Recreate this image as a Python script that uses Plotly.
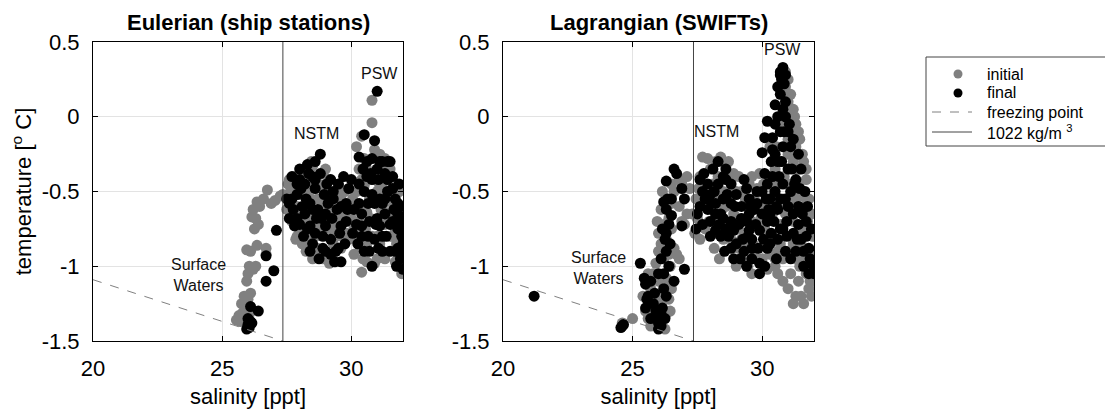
import plotly.graph_objects as go

# Eulerian (ship stations): (salinity, temperature)
eul_initial = [
    (25.55, -1.36), (25.65, -1.33), (25.7, -1.37), (25.8, -1.31), (25.9, -1.34), (25.75, -1.25),
    (25.85, -1.2), (26.0, -1.22), (26.1, -1.18), (25.95, -1.28), (26.05, -1.32),
    (25.95, -1.1), (26.0, -1.05), (26.05, -1.0), (26.3, -1.0), (26.2, -1.02), (25.95, -0.89),
    (26.1, -0.9), (26.35, -0.86), (26.7, -0.88), (26.7, -0.92),
    (26.15, -0.67), (26.3, -0.68), (26.4, -0.72), (26.25, -0.75), (26.2, -0.62), (26.35, -0.57),
    (26.45, -0.6), (26.75, -0.49), (26.9, -0.58), (27.05, -0.56), (27.25, -0.53), (27.35, -0.52),
    (26.6, -0.55),
    (27.6, -0.42), (27.8, -0.4), (28.0, -0.38), (28.2, -0.35), (28.5, -0.33), (28.9, -0.38), (29.1, -0.42),
    (27.6, -0.55), (27.9, -0.6), (28.2, -0.5), (28.4, -0.48), (28.7, -0.55), (29.0, -0.58), (29.3, -0.62),
    (29.6, -0.55), (29.9, -0.6),
    (27.7, -0.7), (28.0, -0.75), (28.3, -0.68), (28.6, -0.72), (28.9, -0.7), (29.2, -0.75), (29.5, -0.72),
    (29.8, -0.78), (30.1, -0.75),
    (28.1, -0.85), (28.4, -0.82), (28.7, -0.88), (29.0, -0.9), (29.3, -0.85), (29.6, -0.88), (29.9, -0.82),
    (28.6, -0.93), (28.9, -0.95), (29.2, -0.93),
    (27.55, -0.45), (28.05, -0.52), (28.8, -0.62), (29.4, -0.5), (29.7, -0.68), (28.3, -0.6),
    (27.7, -0.46), (28.3, -0.46), (28.9, -0.46), (29.5, -0.46), (30.5, -0.46), (31.1, -0.46), (31.7, -0.46),
    (27.8, -0.64), (28.5, -0.64), (29.1, -0.64), (29.7, -0.64), (30.6, -0.64), (31.5, -0.64), (31.9, -0.64),
    (27.9, -0.8), (28.6, -0.8), (29.4, -0.8), (30.2, -0.8), (31.0, -0.8), (31.6, -0.8),
    (29.4, -0.97), (30.6, -0.97), (31.7, -0.97), (30.6, -0.35), (31.0, -0.35), (31.5, -0.35),
    (27.65, -0.5), (28.15, -0.4), (28.45, -0.55), (28.75, -0.45), (29.05, -0.5), (29.35, -0.68),
    (29.65, -0.8), (29.95, -0.7), (28.25, -0.9), (28.85, -0.76), (27.85, -0.82), (29.15, -0.55),
    (30.35, -0.88), (30.75, -0.68), (31.15, -0.62), (31.45, -0.68), (31.75, -0.85), (31.55, -0.5),
    (30.95, -0.42), (30.55, -0.75), (31.85, -0.5), (32.0, -0.75), (30.1, -0.92),
    (27.5, -0.62), (28.45, -0.3), (29.0, -0.35), (29.75, -0.5), (30.05, -0.55), (29.15, -0.98), (28.5, -0.95),
    (30.2, -0.6), (30.5, -0.28), (31.25, -0.35), (31.5, -0.55), (31.9, -0.75), (30.45, -0.95), (31.3, -0.95),
    (30.8, 0.11), (30.8, -0.04), (30.4, -0.13), (30.2, -0.2), (30.3, -0.35), (30.4, -0.42), (30.6, -0.3),
    (30.9, -0.22), (31.1, -0.25), (31.3, -0.28), (31.4, -0.32),
    (30.4, -1.04), (30.9, -0.98), (31.0, -0.95), (30.6, -0.85), (30.8, -0.8), (30.3, -0.7), (30.5, -0.62),
    (30.7, -0.55), (31.0, -0.5), (31.2, -0.45), (31.5, -0.42),
    (31.2, -0.6), (31.4, -0.55), (31.6, -0.58), (31.8, -0.65), (31.7, -0.75), (31.9, -0.85), (32.0, -0.95),
    (31.95, -1.05), (31.8, -0.95), (31.5, -0.8), (31.3, -0.72), (31.1, -0.85), (30.2, -0.5), (30.0, -0.68),
]

eul_final = [
    (25.95, -1.42), (26.0, -1.39), (26.05, -1.41), (26.1, -1.37), (26.0, -1.35), (26.15, -1.38),
    (26.1, -1.27), (26.4, -1.3), (26.7, -1.1), (26.7, -0.93), (27.0, -1.03), (27.1, -0.76),
    (28.8, -0.25), (28.3, -0.32), (28.0, -0.35), (28.5, -0.4), (28.8, -0.38), (27.9, -0.45), (28.2, -0.45),
    (28.6, -0.48),
    (27.7, -0.55), (27.9, -0.52), (28.1, -0.6), (28.4, -0.58), (28.7, -0.62), (29.0, -0.65), (29.3, -0.55),
    (29.6, -0.6), (29.9, -0.48), (30.0, -0.42), (29.5, -0.45), (29.3, -0.5),
    (27.6, -0.68), (28.0, -0.72), (28.3, -0.75), (28.6, -0.78), (28.9, -0.8), (29.2, -0.82), (29.5, -0.88),
    (29.6, -0.97), (29.2, -0.92), (28.9, -0.88), (28.5, -0.85), (27.9, -0.68), (29.8, -0.7), (30.1, -0.62),
    (27.5, -0.55), (28.2, -0.65),
    (28.0, -0.42), (28.6, -0.42), (29.2, -0.42), (30.8, -0.42), (31.4, -0.42),
    (27.6, -0.58), (28.3, -0.58), (29.1, -0.58), (29.8, -0.58), (30.3, -0.58), (30.9, -0.58), (31.2, -0.58),
    (31.8, -0.58),
    (27.8, -0.73), (28.4, -0.73), (29.0, -0.73), (29.6, -0.73), (30.4, -0.73), (31.1, -0.73), (31.9, -0.73),
    (28.4, -0.9), (29.0, -0.9), (29.4, -0.9), (30.7, -0.9), (31.2, -0.9), (31.7, -0.9),
    (30.6, -0.3), (31.1, -0.3), (31.4, -0.3), (31.9, -0.6), (32.0, -0.85), (31.95, -0.7),
    (27.75, -0.62), (28.05, -0.48), (28.35, -0.38), (28.65, -0.68), (28.95, -0.52), (29.25, -0.68),
    (29.55, -0.78), (29.85, -0.62), (28.15, -0.8), (28.75, -0.95), (29.35, -0.97), (30.25, -0.85),
    (30.65, -0.58), (31.05, -0.42), (31.35, -0.8), (31.65, -0.62), (31.85, -0.45), (30.95, -0.72),
    (30.45, -0.35), (31.75, -1.0), (32.0, -0.9),
    (27.7, -0.4), (28.6, -0.3), (28.25, -0.55), (28.85, -0.68), (29.45, -0.62), (29.75, -0.85),
    (30.05, -0.78), (29.05, -0.45), (28.5, -0.62), (29.7, -0.4),
    (30.3, -0.45), (30.65, -0.8), (31.05, -0.88), (31.5, -0.72), (31.8, -0.65), (30.75, -0.38),
    (31.3, -0.55), (31.6, -0.48), (30.2, -0.72),
    (31.0, 0.17), (30.5, -0.12), (30.9, -0.16), (30.3, -0.27), (30.8, -0.28), (31.2, -0.3), (31.5, -0.3),
    (31.0, -0.35), (30.6, -0.4), (31.3, -0.38), (31.6, -0.4),
    (30.5, -0.5), (30.8, -0.52), (31.1, -0.55), (31.4, -0.5), (31.7, -0.55), (30.4, -0.65), (30.7, -0.7),
    (31.0, -0.68), (31.3, -0.65), (31.6, -0.7), (31.8, -0.75),
    (30.5, -0.9), (30.8, -1.0), (31.2, -0.8), (31.5, -0.9), (31.8, -0.88), (31.9, -0.95), (32.0, -1.02),
    (31.95, -0.8), (30.9, -0.82), (30.4, -0.8),
]

# Lagrangian (SWIFTs)
lag_initial = [
    (25.0, -1.35), (24.6, -1.38),
    (25.4, -1.2), (25.5, -1.3), (25.6, -1.35), (25.8, -1.38), (25.9, -1.3), (26.1, -1.25), (26.2, -1.2),
    (26.4, -1.22), (26.3, -1.32), (25.7, -1.15), (26.0, -1.1), (26.3, -1.08), (26.4, -1.1), (25.9, -0.98),
    (26.2, -0.95), (26.1, -0.85), (26.3, -0.82), (26.0, -0.78), (26.2, -0.72), (26.4, -0.68), (26.1, -0.62),
    (26.3, -0.55), (26.5, -0.58), (26.6, -0.5), (26.8, -0.42), (26.9, -0.45), (27.2, -0.48), (26.9, -0.7),
    (27.0, -0.72), (26.7, -0.92), (26.8, -0.95), (26.6, -0.88), (27.3, -0.65), (27.4, -0.78), (26.5, -0.75),
    (25.6, -1.25), (26.0, -1.2), (26.45, -1.3), (25.8, -1.05), (26.45, -1.0), (26.0, -0.9), (26.4, -0.92),
    (25.95, -0.7), (26.35, -0.75), (26.15, -0.5), (26.5, -0.45), (27.1, -0.4), (26.8, -0.6), (27.1, -0.65),
    (25.7, -1.4), (26.25, -1.42), (26.5, -1.15), (25.6, -1.05),
    (27.7, -0.27), (28.4, -0.27), (28.0, -0.35), (28.6, -0.33), (28.9, -0.38), (29.2, -0.5), (29.5, -0.45),
    (29.8, -0.48), (29.9, -0.38),
    (27.6, -0.55), (28.0, -0.62), (28.3, -0.55), (28.6, -0.6), (28.9, -0.65), (29.2, -0.68), (29.5, -0.62),
    (29.8, -0.72), (30.1, -0.75),
    (27.8, -0.75), (28.2, -0.78), (28.5, -0.72), (28.8, -0.82), (29.1, -0.88), (29.4, -0.85), (29.7, -0.9),
    (30.0, -0.95), (30.3, -0.92),
    (27.5, -0.68), (28.1, -0.45), (28.7, -0.5), (29.3, -0.78),
    (27.6, -0.4), (28.3, -0.4), (28.9, -0.4), (29.6, -0.4), (28.5, -0.5), (29.0, -0.5), (29.9, -0.5),
    (27.8, -0.58), (28.6, -0.58), (29.4, -0.58), (30.2, -0.58), (28.2, -0.7), (28.9, -0.7), (29.6, -0.7),
    (27.6, -0.82), (28.5, -0.82), (29.2, -0.82), (30.1, -0.82), (29.2, -0.95), (29.8, -0.95), (30.5, -0.95),
    (27.55, -0.48), (27.95, -0.7), (28.45, -0.62), (28.75, -0.42), (29.05, -0.75), (29.35, -0.55),
    (29.65, -0.85), (29.95, -0.68), (30.25, -0.82), (28.15, -0.88), (29.45, -1.0),
    (27.45, -0.55), (27.9, -0.28), (28.2, -0.3), (28.7, -0.3), (29.1, -0.4), (29.7, -0.55), (30.05, -0.45),
    (28.35, -0.95), (29.0, -1.0), (29.6, -1.05), (30.2, -1.02),
    (30.9, 0.2), (31.0, 0.1), (31.1, 0.0), (31.2, -0.1), (30.9, -0.05), (31.0, -0.15), (31.3, -0.2),
    (31.2, -0.3), (31.4, -0.35), (30.7, -0.3), (30.5, -0.35), (30.3, -0.4), (31.1, -0.45), (31.5, -0.5),
    (30.6, -0.6), (30.9, -0.65), (31.2, -0.7), (31.6, -0.65), (31.8, -0.78), (30.4, -0.8), (30.7, -0.85),
    (31.0, -0.9), (31.3, -0.95), (31.6, -0.98), (31.9, -1.0), (32.0, -1.1), (31.8, -1.15), (31.5, -1.2),
    (31.2, -1.25), (31.9, -1.2), (30.5, -1.0), (30.8, -1.1), (31.1, -1.05), (31.5, -0.85), (31.7, -0.55),
    (31.4, -0.45), (30.2, -0.55), (30.0, -0.6), (30.9, 0.3), (31.0, 0.25),
    (30.95, 0.15), (31.05, 0.05), (31.3, -0.05), (31.45, -0.15), (31.6, -0.3), (31.7, -0.42), (31.85, -0.65),
    (31.95, -0.8), (32.0, -0.95), (31.7, -1.05), (31.4, -1.1), (31.0, -1.15), (30.6, -1.05), (31.3, -1.2),
    (31.6, -1.25), (31.85, -1.1), (30.8, -0.95), (31.2, -0.85), (31.5, -0.75), (31.8, -0.9), (30.4, -0.65),
    (30.8, -0.55), (31.3, -0.55), (31.6, -0.6), (30.6, -0.45), (31.0, -0.25), (30.4, -0.3), (30.3, -0.2),
    (31.2, 0.05),
    (30.7, -0.72), (31.05, -0.6), (31.35, -0.35), (31.55, -0.95), (31.15, -0.8), (30.45, -0.5),
    (31.75, -0.7), (31.45, -1.0), (30.6, -0.9), (30.55, -0.2), (30.85, -0.4), (31.15, -0.15),
    (31.1, 0.15), (31.25, 0.0), (31.4, -0.1), (31.55, -0.25), (31.7, -0.35), (31.8, -0.55), (31.9, -0.65),
    (31.95, -0.9),
]

lag_final = [
    (21.2, -1.2), (24.55, -1.41), (24.65, -1.39), (24.6, -1.4),
    (25.3, -0.98), (25.45, -1.08), (25.5, -1.12), (25.6, -1.2), (25.55, -1.22), (25.7, -1.1), (25.8, -1.25),
    (25.9, -1.3), (26.0, -1.38), (26.0, -1.42), (25.95, -1.35), (26.1, -1.32), (26.15, -1.28), (26.2, -1.15),
    (26.2, -1.05), (26.1, -0.95), (26.3, -0.9), (26.25, -0.82), (26.3, -0.78), (26.4, -0.72), (26.3, -0.62),
    (26.5, -0.66), (26.2, -0.57), (26.3, -0.43), (26.6, -0.35), (26.7, -0.38), (26.9, -0.48), (27.0, -0.55),
    (26.9, -0.73), (27.0, -1.02), (26.5, -0.55), (26.6, -1.1),
    (25.5, -1.28), (25.7, -1.35), (25.85, -1.18), (26.3, -1.2), (26.0, -1.05), (26.4, -1.0), (26.15, -0.75),
    (26.35, -0.55), (26.45, -0.85), (26.1, -1.4), (26.25, -1.35),
    (28.3, -0.3), (28.1, -0.35), (28.5, -0.4), (27.9, -0.45), (28.3, -0.45), (28.8, -0.45), (27.7, -0.5),
    (28.0, -0.52), (28.5, -0.55), (29.0, -0.52), (27.6, -0.6), (27.9, -0.62), (28.2, -0.65), (28.5, -0.68),
    (28.8, -0.7), (29.1, -0.72), (29.4, -0.7), (28.4, -0.8), (28.7, -0.8), (29.0, -0.85), (29.3, -0.9),
    (29.6, -0.95), (29.9, -0.98), (29.6, -0.82), (29.2, -0.6), (29.5, -0.55), (29.8, -0.5), (29.7, -0.62),
    (30.0, -0.65), (30.2, -0.7), (28.0, -0.7), (27.7, -0.72), (29.9, -1.05),
    (28.6, -0.35), (27.6, -0.42), (28.6, -0.42), (29.3, -0.42), (28.2, -0.58), (28.8, -0.58), (29.8, -0.58),
    (27.5, -0.65), (28.4, -0.65), (29.5, -0.65), (30.3, -0.65), (28.2, -0.76), (28.9, -0.76), (29.5, -0.76),
    (29.9, -0.76), (28.8, -0.88), (29.6, -0.88), (30.2, -0.88), (29.4, -1.0), (30.1, -1.0),
    (27.75, -0.38), (28.05, -0.58), (28.35, -0.72), (28.65, -0.52), (28.95, -0.6), (29.25, -0.82),
    (29.55, -0.6), (29.85, -0.88), (30.15, -0.55), (28.55, -0.9), (29.15, -0.95),
    (27.45, -0.75), (28.0, -0.8), (28.6, -0.75), (29.2, -0.68), (29.45, -0.8), (29.75, -0.72),
    (30.05, -0.82), (28.9, -0.95), (29.4, -0.48), (28.15, -0.5), (27.8, -0.55),
    (30.7, 0.3), (30.8, 0.33), (30.75, 0.25), (30.6, 0.2), (30.85, 0.22), (30.9, 0.1), (30.5, 0.08),
    (30.2, -0.03), (30.5, -0.05), (30.4, -0.14), (30.1, -0.14), (30.0, -0.24), (30.4, -0.22), (30.7, -0.1),
    (30.8, -0.2), (30.6, -0.3), (31.0, -0.35), (31.3, -0.42), (31.1, -0.5), (30.8, -0.45), (30.5, -0.5),
    (30.3, -0.55), (30.6, -0.62), (31.0, -0.6), (31.4, -0.6), (31.7, -0.7), (30.8, -0.75), (31.2, -0.78),
    (31.5, -0.82), (31.8, -0.88), (31.9, -0.98), (32.0, -1.05), (31.6, -1.0), (31.3, -0.9), (30.6, -0.82),
    (31.4, -0.25), (31.2, -0.15),
    (30.7, 0.15), (30.6, 0.0), (30.9, 0.0), (30.75, -0.3), (31.1, -0.2), (31.5, -0.35), (31.65, -0.5),
    (31.2, -0.65), (30.9, -0.55), (30.45, -0.7), (30.9, -0.9), (31.4, -0.72), (31.7, -0.8), (31.9, -0.75),
    (32.0, -1.0), (31.8, -1.05), (30.4, -0.4), (30.2, -0.45), (30.7, -0.75), (31.1, -0.95),
    (30.35, -0.78), (30.95, -0.8), (31.25, -0.45), (30.65, -0.4), (31.55, -0.65), (31.85, -0.95),
    (30.55, -0.95), (30.35, -0.3), (30.85, -0.1), (31.05, -0.05),
    (30.8, 0.05), (31.0, -0.1), (30.5, -0.25), (30.7, -0.55), (31.15, -0.35), (31.45, -0.48), (30.3, -0.85),
    (30.55, -0.6), (30.95, -0.7), (31.35, -0.82), (31.6, -0.9), (31.75, -0.6), (30.1, -0.38), (30.25, -0.62),
    (30.0, -0.5), (30.7, 0.28), (30.9, 0.28),
]

freeze_s = [20, 27.35]
freeze_t = [-1.09, -1.5]
isopycnal_s = [27.35, 27.35]
isopycnal_t = [-1.5, 0.5]

titles = ["Eulerian (ship stations)", "Lagrangian (SWIFTs)"]
ytickvals = [-1.5, -1, -0.5, 0, 0.5]
yticktext = ["-1.5", "-1", "-0.5", "0", "0.5"]
xtickvals = [20, 25, 30]
legend_labels = ["initial", "final", "freezing point", "1022 kg/m <sup>3</sup>"]

GREY = "#808080"
ISO = "#444444"
FONT = "Liberation Sans, Arial, sans-serif"
MSIZE = 11

# page body has an 8px margin, so the figure is a bit smaller than the window
W, H = 1105, 404

fig = go.Figure()

panels = [(eul_initial, eul_final, "x", "y"), (lag_initial, lag_final, "x2", "y2")]
for ini, fin, xa, ya in panels:
    s, t = zip(*ini)
    fig.add_trace(go.Scatter(x=s, y=t, mode="markers", name="initial", xaxis=xa, yaxis=ya,
                             marker=dict(color=GREY, size=MSIZE)))
    s, t = zip(*fin)
    fig.add_trace(go.Scatter(x=s, y=t, mode="markers", name="final", xaxis=xa, yaxis=ya,
                             marker=dict(color="black", size=MSIZE)))
    fig.add_trace(go.Scatter(x=freeze_s, y=freeze_t, mode="lines", name="freezing point",
                             xaxis=xa, yaxis=ya, line=dict(color=GREY, width=1, dash="dash")))
    fig.add_trace(go.Scatter(x=isopycnal_s, y=isopycnal_t, mode="lines", name="1022 kg/m3",
                             xaxis=xa, yaxis=ya, line=dict(color=ISO, width=1)))

axis_common = dict(showline=True, linecolor="black", linewidth=1, mirror="allticks",
                   ticks="inside", ticklen=5, tickcolor="black", showgrid=True,
                   gridcolor="#e3e3e3", zeroline=False, automargin=False,
                   ticklabelstandoff=8, tickfont=dict(size=22, color="black"))

xdom = [[85 / W, 395 / W], [495 / W, 806 / W]]
ydom = [1 - 333 / H, 1 - 34 / H]
for i in range(2):
    sfx = "" if i == 0 else str(i + 1)
    fig.update_layout(**{
        "xaxis" + sfx: dict(axis_common, domain=xdom[i], range=[20, 32], tickvals=xtickvals,
                            anchor="y" + sfx,
                            title=dict(text="salinity [ppt]", font=dict(size=22), standoff=8)),
        "yaxis" + sfx: dict(axis_common, domain=ydom, range=[-1.5, 0.5],
                            tickvals=ytickvals, ticktext=yticktext, anchor="x" + sfx),
    })

fig.update_layout(yaxis_title=dict(text="temperature [<sup>o</sup> C]", font=dict(size=22), standoff=8))

for i, title in enumerate(titles):
    cx = (xdom[i][0] + xdom[i][1]) / 2
    fig.add_annotation(text="<b>" + title + "</b>", x=cx, y=1 - 14 / H, xref="paper", yref="paper",
                       xanchor="center", yanchor="middle", showarrow=False,
                       font=dict(size=22, color="black"))

labels = [
    ("x", "y", 24.1, -1.06, "Surface<br>Waters"),
    ("x", "y", 28.64, -0.11, "NSTM"),
    ("x", "y", 31.08, 0.29, "PSW"),
    ("x2", "y2", 23.68, -1.01, "Surface<br>Waters"),
    ("x2", "y2", 28.23, -0.1, "NSTM"),
    ("x2", "y2", 30.77, 0.45, "PSW"),
]
for xr, yr, sx, ty, txt in labels:
    fig.add_annotation(text=txt, x=sx, y=ty, xref=xr, yref=yr, showarrow=False,
                       font=dict(size=16, color="#111111"))

# legend box drawn by hand (MATLAB style, tight rows)
def px(x):
    return x / W

def py(y):
    return 1 - y / H

box_l, box_r, box_t, box_b = 918, 1100, 49, 138
row_y = [66, 85, 104, 124]
fig.add_shape(type="rect", xref="paper", yref="paper", x0=px(box_l), x1=px(box_r),
              y0=py(box_b), y1=py(box_t), line=dict(color=ISO, width=1), fillcolor="white")
for k, col in enumerate([GREY, "black"]):
    r = 4.5
    fig.add_shape(type="circle", xref="paper", yref="paper", x0=px(950 - r), x1=px(950 + r),
                  y0=py(row_y[k] + r), y1=py(row_y[k] - r), fillcolor=col, line=dict(color=col, width=0))
fig.add_shape(type="line", xref="paper", yref="paper", x0=px(924), x1=px(964),
              y0=py(row_y[2]), y1=py(row_y[2]), line=dict(color=GREY, width=1, dash="dash"))
fig.add_shape(type="line", xref="paper", yref="paper", x0=px(924), x1=px(964),
              y0=py(row_y[3]), y1=py(row_y[3]), line=dict(color=ISO, width=1))
for k, lab in enumerate(legend_labels):
    fig.add_annotation(text=lab, xref="paper", yref="paper", x=px(977), y=py(row_y[k]),
                       xanchor="left", yanchor="middle", showarrow=False,
                       font=dict(size=16, color="black"))

fig.update_layout(
    width=W, height=H,
    margin=dict(l=0, r=0, t=0, b=0),
    paper_bgcolor="white", plot_bgcolor="white",
    font=dict(family=FONT, color="black"),
    showlegend=False,
)

fig.write_html("out.html")
